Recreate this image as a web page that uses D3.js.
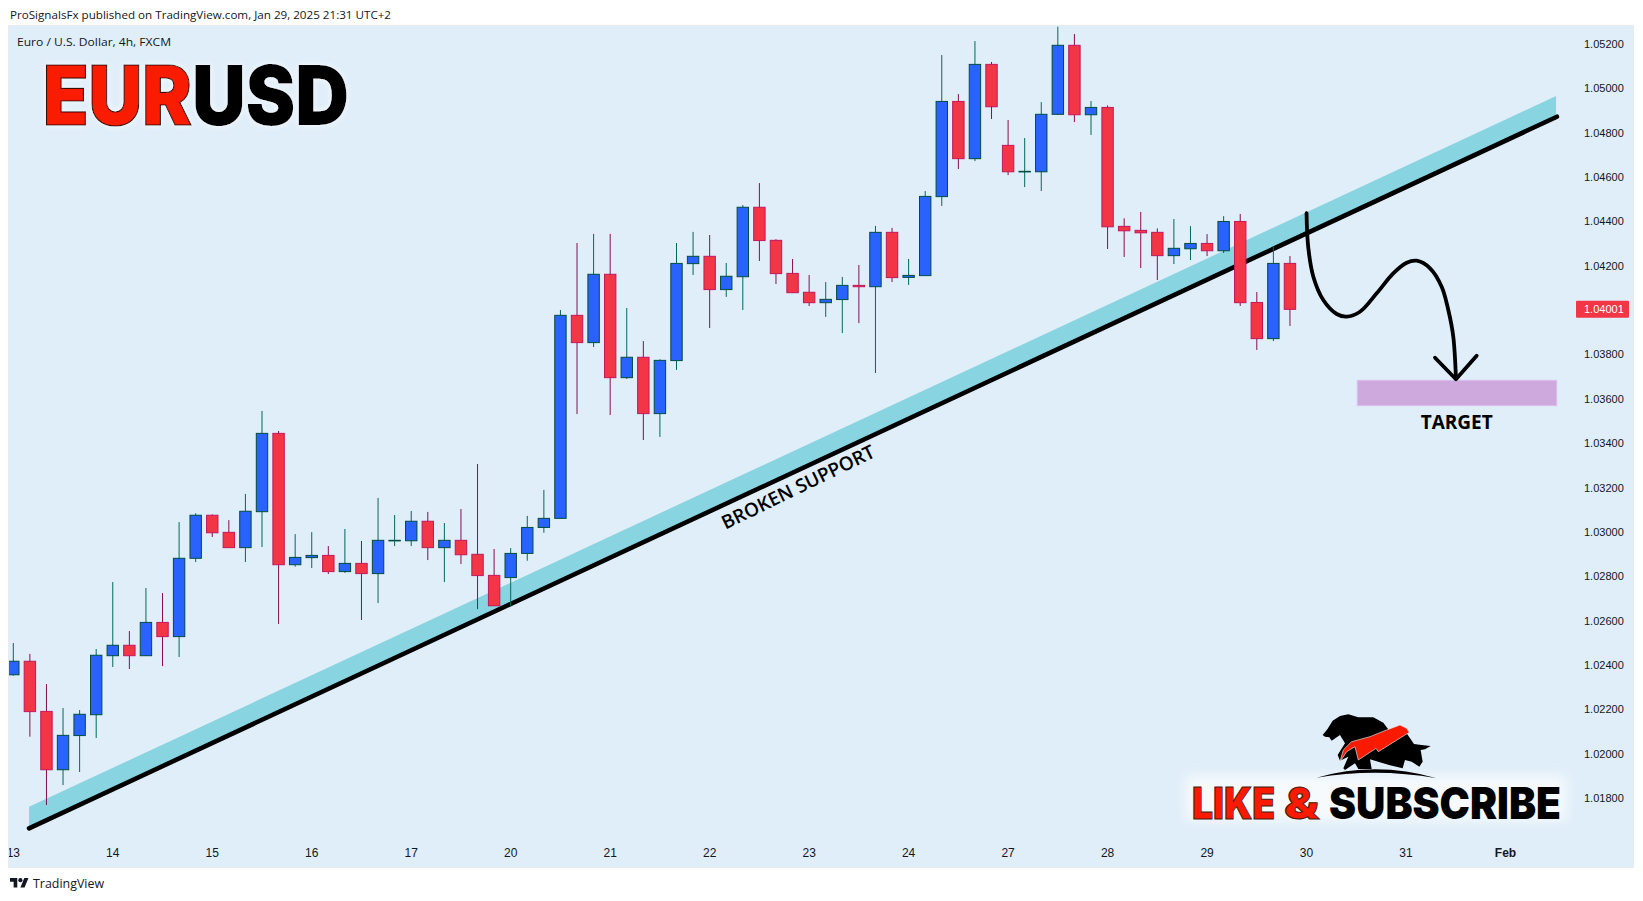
<!DOCTYPE html>
<html><head><meta charset="utf-8">
<script src="https://cdnjs.cloudflare.com/ajax/libs/d3/7.8.5/d3.min.js"></script>
<style>html,body{margin:0;padding:0;background:#fff}svg{display:block}</style>
</head><body><div id="c"></div>
<script>
const opens=[1.02354,1.02415,1.02189,1.01926,1.02080,1.02174,1.02440,1.02487,1.02440,1.02590,1.02526,1.02879,1.03073,1.02996,1.02927,1.03089,1.03442,1.02850,1.02882,1.02892,1.02819,1.02856,1.02810,1.02958,1.02958,1.03046,1.02927,1.02960,1.02897,1.02802,1.02792,1.02901,1.03018,1.03059,1.03974,1.03851,1.04159,1.03693,1.03785,1.03531,1.03770,1.04207,1.04240,1.04090,1.04148,1.04461,1.04312,1.04163,1.04078,1.04031,1.04045,1.04109,1.04103,1.04348,1.04145,1.04153,1.04509,1.04938,1.04680,1.05105,1.04740,1.04621,1.04621,1.04880,1.05191,1.04878,1.04911,1.04375,1.04357,1.04348,1.04243,1.04274,1.04298,1.04265,1.04397,1.04032,1.03869,1.04208];
const highs=[1.02497,1.02448,1.02312,1.02204,1.02195,1.02470,1.02772,1.02551,1.02745,1.02722,1.03042,1.03082,1.03077,1.03051,1.03169,1.03543,1.03453,1.02988,1.02997,1.02934,1.03011,1.02957,1.03151,1.03074,1.03092,1.03088,1.03038,1.03101,1.03304,1.02921,1.02925,1.03070,1.03187,1.03998,1.04300,1.04341,1.04341,1.04007,1.03858,1.03776,1.04300,1.04350,1.04336,1.04210,1.04471,1.04570,1.04317,1.04228,1.04156,1.04124,1.04147,1.04201,1.04377,1.04368,1.04228,1.04534,1.05147,1.04971,1.05210,1.05116,1.04854,1.04773,1.04935,1.05275,1.05242,1.04940,1.04920,1.04411,1.04440,1.04366,1.04408,1.04376,1.04340,1.04421,1.04431,1.04079,1.04283,1.04241];
const lows=[1.02350,1.02075,1.01767,1.01857,1.01916,1.02069,1.02389,1.02380,1.02440,1.02393,1.02434,1.02862,1.02975,1.02927,1.02862,1.02930,1.02583,1.02841,1.02835,1.02808,1.02813,1.02601,1.02677,1.02934,1.02934,1.02871,1.02772,1.02853,1.02650,1.02665,1.02661,1.02868,1.02994,1.03059,1.03529,1.03831,1.03525,1.03687,1.03412,1.03426,1.03728,1.04156,1.03917,1.04057,1.03998,1.04219,1.04115,1.04076,1.04016,1.03967,1.03894,1.03939,1.03714,1.04124,1.04111,1.04153,1.04467,1.04633,1.04669,1.04859,1.04606,1.04552,1.04534,1.04878,1.04845,1.04787,1.04273,1.04237,1.04187,1.04133,1.04205,1.04223,1.04241,1.04255,1.04016,1.03818,1.03858,1.03926];
const closes=[1.02415,1.02188,1.01926,1.02081,1.02176,1.02442,1.02487,1.02440,1.02590,1.02526,1.02879,1.03073,1.02994,1.02927,1.03091,1.03442,1.02850,1.02883,1.02892,1.02819,1.02856,1.02810,1.02960,1.02960,1.03046,1.02927,1.02960,1.02895,1.02801,1.02665,1.02901,1.03018,1.03059,1.03974,1.03851,1.04159,1.03693,1.03785,1.03531,1.03771,1.04208,1.04240,1.04090,1.04150,1.04461,1.04311,1.04162,1.04076,1.04031,1.04046,1.04109,1.04103,1.04348,1.04144,1.04154,1.04510,1.04938,1.04680,1.05105,1.04914,1.04621,1.04623,1.04880,1.05191,1.04878,1.04911,1.04373,1.04355,1.04346,1.04243,1.04276,1.04298,1.04265,1.04397,1.04031,1.03869,1.04208,1.04001];
const dayTickBars=[0,6,12,18,24,30,36,42,48,54,60,66,72,78,84,90];
const dayTickLabels=["13","14","15","16","17","20","21","22","23","24","27","28","29","30","31","Feb"];
const priceTicks=[1.018,1.020,1.022,1.024,1.026,1.028,1.030,1.032,1.034,1.036,1.038,1.040,1.042,1.044,1.046,1.048,1.050,1.052];
const lastPrice=1.04001;
const bandBars=[0.95,93.05];
const bandUpper=[1.01759,1.04962];
const bandLower=[1.01668,1.04874];
const supportBars=[0.95,93.1];
const supportPrices=[1.01662,1.04869];
const targetBars=[81.06,93.09];
const targetPrices=[1.03681,1.03567];
const curveBars=[78.0,78.1,78.41,79.01,79.82,80.42,81.22,82.23,83.23,84.04,84.64,85.45,86.15,86.55,86.85,87.01];
const curvePrices=[1.04434,1.04283,1.04148,1.04043,1.0398,1.03968,1.0399,1.04073,1.04163,1.04211,1.0422,1.04186,1.04103,1.03998,1.03878,1.0369];
const arrowBars=[85.75,87.01,88.26];
const arrowPrices=[1.03783,1.03686,1.03792];

const W=1643,H=901,panel={l:9,t:26,r:1633,b:867};
const x=d3.scaleLinear().domain([0,90]).range([13.3,13.3+90*16.58]);
const y=d3.scaleLinear().domain([1.018,1.052]).range([797.7,43.3]);
const svg=d3.select("#c").append("svg").attr("width",W).attr("height",H).attr("viewBox",`0 0 ${W} ${H}`);
const defs=svg.append("defs");
defs.append("clipPath").attr("id","pc").append("rect").attr("x",panel.l).attr("y",panel.t).attr("width",panel.r-panel.l).attr("height",panel.b-panel.t);
const glow=defs.append("filter").attr("id","glow").attr("x","-10%").attr("y","-20%").attr("width","120%").attr("height","140%");
glow.append("feDropShadow").attr("dx",0).attr("dy",0).attr("stdDeviation",3).attr("flood-color","#fff").attr("flood-opacity",0.8);
const blur=defs.append("filter").attr("id","blur").attr("x","-10%").attr("y","-40%").attr("width","120%").attr("height","180%");
blur.append("feGaussianBlur").attr("stdDeviation",6);

svg.append("rect").attr("width",W).attr("height",H).attr("fill","#fff");
svg.append("rect").attr("x",panel.l-.5).attr("y",panel.t-.5).attr("width",panel.r-panel.l+1).attr("height",panel.b-panel.t+1).attr("fill","#e0eef9").attr("stroke","#e9ecef");

const UI="'Liberation Sans',Arial,sans-serif";
svg.append("text").attr("x",10).attr("y",19).attr("font-family","'Open Sans'").attr("font-size",11.6).attr("fill","#131722").attr("textLength",381).attr("lengthAdjust","spacingAndGlyphs").text("ProSignalsFx published on TradingView.com, Jan 29, 2025 21:31 UTC+2");
svg.append("text").attr("x",17).attr("y",45.5).attr("font-family","'Open Sans'").attr("font-size",11.6).attr("fill","#131722").attr("textLength",154).attr("lengthAdjust","spacingAndGlyphs").text("Euro / U.S. Dollar, 4h, FXCM");

const plot=svg.append("g").attr("clip-path","url(#pc)");
const L=d3.line().x(d=>x(d[0])).y(d=>y(d[1]));
plot.append("path").attr("fill","#89d4e1")
 .attr("d",L([[bandBars[0],bandUpper[0]],[bandBars[1],bandUpper[1]],[bandBars[1],bandLower[1]],[bandBars[0],bandLower[0]]])+"Z");
plot.append("path").attr("fill","none").attr("stroke","#000").attr("stroke-width",4.6).attr("stroke-linecap","round")
 .attr("d",L(supportBars.map((b,i)=>[b,supportPrices[i]])));
plot.append("rect").attr("x",x(targetBars[0])).attr("y",y(targetPrices[0])).attr("width",x(targetBars[1])-x(targetBars[0])).attr("height",y(targetPrices[1])-y(targetPrices[0])).attr("fill","#cda9de").attr("stroke","#dcbcf0").attr("stroke-width",1);
plot.append("path").attr("fill","none").attr("stroke","#000").attr("stroke-width",3.8).attr("stroke-linecap","round")
 .attr("d",d3.line().x(d=>x(d[0])).y(d=>y(d[1])).curve(d3.curveCatmullRom.alpha(.5))(curveBars.map((b,i)=>[b,curvePrices[i]])));
plot.append("path").attr("fill","none").attr("stroke","#000").attr("stroke-width",3.8).attr("stroke-linecap","round").attr("stroke-linejoin","round")
 .attr("d",L(arrowBars.map((b,i)=>[b,arrowPrices[i]])));

const bars=d3.range(opens.length).map(i=>({i,o:opens[i],h:highs[i],l:lows[i],c:closes[i],up:closes[i]>=opens[i]}));
const g=plot.append("g").selectAll("g").data(bars).join("g");
g.append("line").attr("x1",d=>x(d.i)).attr("x2",d=>x(d.i)).attr("y1",d=>y(d.h)).attr("y2",d=>y(d.l)).attr("stroke",d=>d.up?"#00695c":"#880e4f").attr("stroke-width",1);
g.append("rect").attr("x",d=>x(d.i)-5.7).attr("width",11.4)
 .attr("y",d=>y(Math.max(d.o,d.c))).attr("height",d=>Math.max(.6,Math.abs(y(d.o)-y(d.c))))
 .attr("fill",d=>d.up?"#2962ff":"#f23645").attr("stroke",d=>d.up?"#004d40":"#c2185b").attr("stroke-width",1);

const ya=svg.append("g").attr("transform","translate(1584,0)").call(d3.axisRight(y).tickValues(priceTicks).tickSize(0).tickPadding(0).tickFormat(d3.format(".5f")));
ya.select(".domain").remove();
ya.selectAll("text").attr("font-family",UI).attr("font-size",11).attr("fill","#131722").attr("x",0).attr("dy","0.36em");
const xa=svg.append("g").attr("clip-path","url(#pc)").append("g").attr("transform","translate(-0.5,848)").call(d3.axisBottom(x).tickValues(dayTickBars).tickSize(0).tickPadding(0).tickFormat((d,i)=>dayTickLabels[i]));
xa.select(".domain").remove();
xa.selectAll("text").attr("font-family",UI).attr("font-size",12).attr("fill","#131722").attr("font-weight",(d,i)=>dayTickLabels[i]==="Feb"?700:400);

svg.append("rect").attr("x",1576).attr("y",y(lastPrice)-8.5).attr("width",53).attr("height",17).attr("rx",1).attr("fill","#f23645");
svg.append("text").attr("x",1584).attr("y",y(lastPrice)).attr("dy","0.36em").attr("font-family",UI).attr("font-size",11).attr("fill","#fff").text(d3.format(".5f")(lastPrice));

const HEAD="Inter,Roboto,sans-serif";
const t=svg.append("text").attr("x",43).attr("y",125).attr("font-family",HEAD).attr("font-size",82).attr("font-weight",900).attr("filter","url(#glow)").attr("textLength",306).attr("lengthAdjust","spacingAndGlyphs");
t.append("tspan").attr("fill","#f91a00").attr("stroke","#3a0a04").attr("stroke-width",1.2).text("EUR");
t.append("tspan").attr("fill","#000").text("USD");
svg.append("text").attr("x",1456.7).attr("y",429).attr("text-anchor","middle").attr("font-family","'Open Sans'").attr("font-size",19).attr("font-weight",700).attr("fill","#000").text("TARGET");
svg.append("text").attr("transform","translate(801,493) rotate(-26)").attr("text-anchor","middle").attr("font-family","'Open Sans'").attr("font-size",19).attr("font-weight",600).attr("fill","#000").text("BROKEN SUPPORT");

svg.append("rect").attr("x",1186).attr("y",776).attr("width",380).attr("height",44).attr("fill","#f6fafd").attr("filter","url(#blur)");
const word=(txt,x0,len,fill,stroke)=>{
  const s=svg.append("text").attr("font-family",HEAD).attr("font-size",44).attr("font-weight",900).attr("fill",fill).text(txt);
  if(stroke)s.attr("stroke",stroke).attr("stroke-width",1);
  const natural=s.node().getComputedTextLength();
  s.attr("transform",`translate(${x0},819) scale(${len/natural},1)`);
};
word("LIKE",1192,83,"#f91a00","#4a1a14");
word("&",1284,35,"#f91a00","#4a1a14");
word("SUBSCRIBE",1329,232,"#000",null);
const logo=svg.append("g").attr("transform","translate(1290,700) scale(0.3333)");
logo.append("path").attr("fill","#000").attr("d","M98,105 L112,88 L128,62 L150,48 L175,43 L205,52 L250,52 L280,68 L298,92 L350,100 L372,132 L395,135 L422,138 L405,148 L392,150 L398,185 L388,200 L365,185 L345,180 L338,205 L300,196 L240,178 L245,207 L205,207 L195,190 L165,210 L160,205 L175,170 L150,182 L143,165 L165,130 L150,105 L125,122 L118,112 L105,110 Z");
logo.append("path").attr("fill","#f91a00").attr("stroke","#e8e8e8").attr("stroke-width",2).attr("d","M150,185 L160,150 L185,125 L240,110 L290,90 L330,75 L350,85 L358,97 L345,105 L265,155 L258,145 L205,180 L195,140 L170,155 Z");
logo.append("path").attr("fill","#000").attr("d","M80,233 Q260,182 440,235 Q260,203 80,233 Z");

const f=svg.append("g").attr("transform","translate(10,876) scale(0.52)").attr("fill","#131722");
f.append("path").attr("d","M14 22H7V11H0V4h14v18zM28 22h-8l7.5-18h8L28 22z");
f.append("circle").attr("cx",20).attr("cy",8).attr("r",4);
svg.append("text").attr("x",33).attr("y",888).attr("font-family","'Open Sans'").attr("font-size",12.6).attr("fill","#131722").attr("textLength",71).attr("lengthAdjust","spacingAndGlyphs").text("TradingView");
</script></body></html>
